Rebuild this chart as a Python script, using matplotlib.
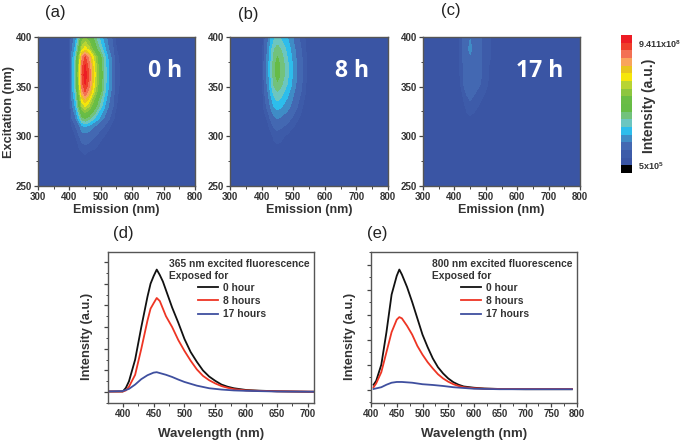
import matplotlib
matplotlib.use('Agg')
import matplotlib.pyplot as plt
from matplotlib.colors import ListedColormap
from matplotlib.ticker import MultipleLocator
import numpy as np

plt.rcParams['font.family'] = ['Liberation Sans', 'DejaVu Sans']
plt.rcParams['mathtext.fontset'] = 'custom'
plt.rcParams['mathtext.bf'] = 'Liberation Sans:bold'

W, H = 683, 440
DARK = '#333333'

# excitation-emission maps, values are colour band numbers
emission = [300, 400, 408, 420, 432, 440, 450, 462, 482, 510, 525, 545, 570, 800]
excitation = [250, 270, 285, 300, 310, 318, 330, 345, 352, 362, 372, 380, 388, 400]

map_0h = [
    [0, 0, 0, 0, 0, 0, 0, 0, 0, 0, 0, 0, 0, 0],
    [0, 0, 0, 0, 0.1, 0.1, 0.1, 0.1, 0.1, 0, 0, 0, 0, 0],
    [0, 0, 0.1, 0.2, 0.4, 0.5, 0.6, 0.5, 0.4, 0.2, 0.1, 0, 0, 0],
    [0, 0, 0.3, 0.5, 1.0, 1.4, 1.5, 1.4, 1.0, 0.5, 0.3, 0.1, 0, 0],
    [0, 0.1, 0.5, 1.0, 1.9, 2.7, 3.0, 2.7, 1.9, 1.0, 0.6, 0.2, 0, 0],
    [0, 0.1, 1.0, 1.9, 3.8, 5.4, 6.0, 5.4, 3.8, 1.9, 1.1, 0.4, 0.1, 0],
    [0, 0.2, 1.7, 3.2, 6.4, 9.0, 10.0, 9.0, 6.4, 3.2, 1.9, 0.6, 0.1, 0],
    [0, 0.3, 2.4, 4.5, 9.0, 12.6, 14.0, 12.6, 9.0, 4.5, 2.7, 0.8, 0.1, 0],
    [0, 0.3, 2.6, 4.8, 9.6, 13.5, 15.0, 13.5, 9.6, 4.8, 2.9, 0.9, 0.15, 0],
    [0, 0.3, 2.7, 5.0, 10.0, 14.0, 15.6, 14.0, 10.0, 5.0, 3.0, 0.9, 0.15, 0],
    [0, 0.3, 2.6, 4.8, 9.6, 13.5, 15.0, 13.5, 9.6, 4.8, 2.9, 0.9, 0.15, 0],
    [0, 0.3, 2.4, 4.5, 9.0, 12.6, 14.0, 12.6, 9.0, 4.5, 2.7, 0.8, 0.1, 0],
    [0, 0.2, 1.8, 3.4, 6.7, 9.5, 10.5, 9.5, 6.7, 3.4, 2.0, 0.6, 0.1, 0],
    [0, 0.2, 1.4, 2.6, 5.1, 7.2, 8.0, 7.2, 5.1, 2.6, 1.5, 0.5, 0.1, 0],
]
map_8h = [
    [0, 0, 0, 0, 0, 0, 0, 0, 0, 0, 0, 0, 0, 0],
    [0, 0, 0, 0, 0.1, 0.1, 0.1, 0.1, 0.1, 0, 0, 0, 0, 0],
    [0, 0, 0, 0.1, 0.2, 0.3, 0.3, 0.3, 0.2, 0.1, 0, 0, 0, 0],
    [0, 0, 0.1, 0.2, 0.4, 0.6, 0.7, 0.6, 0.4, 0.2, 0.1, 0, 0, 0],
    [0, 0, 0.2, 0.4, 0.8, 1.1, 1.2, 1.1, 0.8, 0.4, 0.2, 0.1, 0, 0],
    [0, 0, 0.3, 0.6, 1.3, 1.8, 2.0, 1.8, 1.3, 0.6, 0.4, 0.1, 0, 0],
    [0, 0.1, 0.6, 1.3, 2.4, 3.1, 3.4, 3.1, 2.4, 1.1, 0.6, 0.2, 0, 0],
    [0, 0.1, 0.9, 2.0, 3.6, 4.5, 5.0, 4.5, 3.4, 1.6, 1.0, 0.3, 0.1, 0],
    [0, 0.1, 1.0, 2.3, 4.1, 5.2, 5.8, 5.2, 3.9, 1.9, 1.1, 0.3, 0.1, 0],
    [0, 0.1, 1.1, 2.5, 4.5, 5.8, 6.4, 5.8, 4.2, 2.0, 1.2, 0.4, 0.1, 0],
    [0, 0.1, 1.1, 2.5, 4.5, 5.8, 6.4, 5.8, 4.2, 2.0, 1.2, 0.4, 0.1, 0],
    [0, 0.1, 1.0, 2.4, 4.2, 5.4, 6.0, 5.4, 3.9, 1.9, 1.1, 0.4, 0.1, 0],
    [0, 0.1, 0.9, 2.2, 3.9, 4.9, 5.4, 4.9, 3.6, 1.7, 1.0, 0.3, 0.1, 0],
    [0, 0.1, 0.7, 1.8, 3.3, 3.8, 4.2, 3.8, 3.0, 1.3, 0.8, 0.3, 0, 0],
]
map_17h = [
    [0, 0, 0, 0, 0, 0, 0, 0, 0, 0, 0, 0, 0, 0],
    [0, 0, 0, 0, 0, 0, 0, 0, 0, 0, 0, 0, 0, 0],
    [0, 0, 0, 0, 0, 0, 0, 0, 0, 0, 0, 0, 0, 0],
    [0, 0, 0, 0, 0, 0, 0.1, 0, 0, 0, 0, 0, 0, 0],
    [0, 0, 0, 0, 0, 0.1, 0.1, 0.1, 0, 0, 0, 0, 0, 0],
    [0, 0, 0, 0, 0.2, 0.3, 0.4, 0.3, 0.2, 0.1, 0, 0, 0, 0],
    [0, 0, 0, 0.1, 0.4, 0.7, 0.8, 0.7, 0.4, 0.2, 0.1, 0, 0, 0],
    [0, 0, 0, 0.3, 0.9, 1.1, 1.3, 1.1, 0.8, 0.3, 0.1, 0, 0, 0],
    [0, 0, 0.1, 0.5, 1.1, 1.3, 1.5, 1.3, 1.0, 0.4, 0.2, 0, 0, 0],
    [0, 0, 0.1, 0.6, 1.2, 1.4, 1.6, 1.4, 1.1, 0.5, 0.3, 0.1, 0, 0],
    [0, 0, 0.1, 0.6, 1.2, 1.5, 1.7, 1.5, 1.1, 0.5, 0.3, 0.1, 0, 0],
    [0, 0, 0.1, 0.7, 1.3, 1.5, 1.8, 1.5, 1.1, 0.6, 0.3, 0.1, 0, 0],
    [0, 0, 0.1, 0.7, 1.3, 1.6, 2.4, 1.6, 1.1, 0.6, 0.3, 0.1, 0, 0],
    [0, 0, 0.1, 0.7, 1.3, 1.5, 1.9, 1.5, 1.1, 0.6, 0.3, 0.1, 0, 0],
]

levels = [0, 0.5, 1, 2, 3, 4, 5, 6, 7, 8, 9, 10, 11, 12, 13, 14, 15, 16]
band_colors = ['#3A55A4', '#3D5BA9', '#4368B2', '#3F8CC6', '#2DBDEC', '#6CC6C0',
               '#72C27C', '#66BC46', '#6ABD45', '#8DC63F', '#B8D433', '#F6E60A',
               '#E8C51E', '#F9A45C', '#F37054', '#EF3E2B', '#ED1C24']

# spectra (d)
d_black_x = [375, 400, 405, 410, 420, 430, 440, 445, 450, 455, 460, 465, 470, 480, 490, 500, 510, 520,
             530, 540, 550, 560, 570, 580, 600, 620, 650, 700, 710]
d_black_y = [0.03, 0.03, 0.2, 0.5, 1.5, 3.0, 4.4, 5.0, 5.35, 5.65, 5.4, 5.1, 4.7, 3.9, 3.2, 2.45, 1.85, 1.4,
             1.0, 0.72, 0.52, 0.35, 0.25, 0.18, 0.1, 0.07, 0.04, 0.02, 0.02]
d_red_x = [375, 400, 405, 410, 420, 430, 440, 445, 450, 455, 460, 470, 480, 490, 500, 510, 520,
           530, 540, 550, 560, 570, 580, 600, 620, 650, 710]
d_red_y = [0.03, 0.03, 0.08, 0.25, 0.8, 2.0, 3.3, 3.85, 4.1, 4.34, 4.2, 3.5, 3.0, 2.4, 1.9, 1.45, 1.05,
           0.75, 0.55, 0.4, 0.28, 0.2, 0.14, 0.08, 0.06, 0.04, 0.02]
d_blue_x = [375, 400, 410, 420, 430, 440, 450, 455, 460, 470, 480, 490, 500, 520, 540, 560, 580, 600, 650, 710]
d_blue_y = [0.03, 0.05, 0.15, 0.35, 0.6, 0.78, 0.9, 0.92, 0.88, 0.8, 0.7, 0.58, 0.47, 0.3, 0.18, 0.12, 0.08,
            0.06, 0.03, 0.02]

# spectra (e)
e_black_x = [405, 410, 420, 430, 440, 450, 455, 460, 470, 480, 490, 500, 510, 520, 530, 540, 550, 560,
             570, 580, 600, 620, 650, 700, 790]
e_black_y = [0.2, 0.35, 1.0, 2.3, 3.8, 4.55, 4.8, 4.6, 4.1, 3.5, 2.85, 2.2, 1.7, 1.25, 0.9, 0.65, 0.45, 0.3,
             0.2, 0.13, 0.08, 0.05, 0.03, 0.02, 0.02]
e_red_x = [405, 410, 420, 430, 440, 450, 455, 460, 470, 480, 490, 500, 510, 520, 530, 540, 550, 560,
           570, 580, 600, 620, 650, 790]
e_red_y = [0.1, 0.25, 0.7, 1.5, 2.3, 2.8, 2.9, 2.85, 2.55, 2.2, 1.75, 1.4, 1.1, 0.85, 0.62, 0.45, 0.32, 0.22,
           0.15, 0.1, 0.06, 0.04, 0.03, 0.03]
e_blue_x = [405, 420, 430, 440, 450, 460, 480, 500, 520, 540, 560, 580, 600, 650, 790]
e_blue_y = [0.03, 0.1, 0.2, 0.28, 0.31, 0.31, 0.28, 0.22, 0.19, 0.15, 0.1, 0.07, 0.04, 0.02, 0.02]

legend_labels = ['0 hour', '8 hours', '17 hours']
line_colors = ['#111111', '#EE3524', '#3F4F9F']


def px_axes(fig, left, top, right, bottom):
    return fig.add_axes([left / W, 1 - bottom / H, (right - left) / W, (bottom - top) / H])


def style_axes(ax):
    for spine in ax.spines.values():
        spine.set_color('#555555')
        spine.set_linewidth(1.0)
    ax.tick_params(which='major', length=3, width=0.9, color='#444444', labelcolor=DARK, pad=1.5)
    ax.tick_params(which='minor', length=1.8, width=0.7, color='#444444')


def draw_map(fig, box, values, time_label, time_x, letter, letter_x, letter_y, show_ylabel=False):
    ax = px_axes(fig, *box)
    ax.contourf(emission, excitation, values, levels=levels, colors=band_colors)
    ax.set_xlim(300, 800)
    ax.set_ylim(250, 400)
    ax.set_xticks([300, 400, 500, 600, 700, 800])
    ax.set_yticks([250, 300, 350, 400])
    ax.xaxis.set_minor_locator(MultipleLocator(50))
    ax.yaxis.set_minor_locator(MultipleLocator(25))
    style_axes(ax)
    for lab in ax.get_xticklabels() + ax.get_yticklabels():
        lab.set_fontsize(7)
        lab.set_fontweight('bold')
    ax.set_xlabel('Emission (nm)', fontsize=9, fontweight='bold', color=DARK, labelpad=1)
    if show_ylabel:
        ax.set_ylabel('Excitation (nm)', fontsize=9.2, fontweight='bold', color=DARK)
        ax.yaxis.set_label_coords((15 - box[0]) / (box[2] - box[0]), 0.5)
    ax.text(time_x, 0.775, time_label, transform=ax.transAxes, ha='center', va='center', color='white',
            fontsize=16.5, fontweight='bold', family=['Open Sans', 'DejaVu Sans'])
    fig.text(letter_x / W, 1 - letter_y / H, letter, fontsize=12, color='#222222', ha='left', va='center')
    return ax


def draw_spectrum(fig, box, xlim, ylim, xticks, minor_x, series, title, letter, letter_x, letter_y):
    ax = px_axes(fig, *box)
    handles = []
    for (x, y), color, label in zip(series, line_colors, legend_labels):
        handles.append(ax.plot(x, y, color=color, lw=1.3, label=label)[0])
    ax.set_xlim(*xlim)
    ax.set_ylim(*ylim)
    ax.set_xticks(xticks)
    ax.xaxis.set_minor_locator(MultipleLocator(minor_x))
    ax.yaxis.set_major_locator(MultipleLocator(1))
    ax.yaxis.set_minor_locator(MultipleLocator(0.5))
    ax.set_yticklabels([])
    style_axes(ax)
    for lab in ax.get_xticklabels():
        lab.set_fontsize(7)
        lab.set_fontweight('bold')
    ax.set_xlabel('Wavelength (nm)', fontsize=9.5, fontweight='bold', color=DARK, labelpad=6)
    ax.set_ylabel('Intensity (a.u.)', fontsize=9.3, fontweight='bold', color=DARK)
    ax.yaxis.set_label_coords(-0.075, 0.444)
    ax.text(0.295, 0.955, title, transform=ax.transAxes, fontsize=7.4, fontweight='bold', color=DARK,
            va='top', linespacing=1.3)
    ax.legend(handles=handles, loc='upper left', bbox_to_anchor=(0.435, 0.795), frameon=False,
              prop={'size': 7.4, 'weight': 'bold'}, labelcolor=DARK, handlelength=1.95, handletextpad=0.5,
              labelspacing=0.3, borderpad=0, borderaxespad=0)
    fig.text(letter_x / W, 1 - letter_y / H, letter, fontsize=12, color='#222222', ha='left', va='center')
    return ax


fig = plt.figure(figsize=(W / 100, H / 100), dpi=100)

draw_map(fig, (38, 37, 195, 186), map_0h, '0 h', 0.81, '(a)', 45, 13, show_ylabel=True)
draw_map(fig, (230, 37, 388, 186), map_8h, '8 h', 0.77, '(b)', 238, 15)
draw_map(fig, (423, 37, 580, 186), map_17h, '17 h', 0.745, '(c)', 441, 10)

# colour key
cax = px_axes(fig, 621, 35, 632, 173)
key_bands = np.arange(len(band_colors) + 1).reshape(-1, 1)
key_colors = ['#000000'] + band_colors
cax.imshow(key_bands, origin='lower', aspect='auto', cmap=ListedColormap(key_colors))
cax.axis('off')
fig.text(638 / W, 1 - 44 / H, r'9.411x10$^{\mathbf{8}}$', fontsize=6.5, fontweight='bold', color=DARK, va='center')
fig.text(638 / W, 1 - 166 / H, r'5x10$^{\mathbf{5}}$', fontsize=6.5, fontweight='bold', color=DARK, va='center')
fig.text(649 / W, 1 - 106 / H, 'Intensity (a.u.)', fontsize=10, fontweight='bold', color=DARK, rotation=90,
         ha='center', va='center')

draw_spectrum(fig, (108, 252, 314, 403), (376, 710), (-0.5, 6.46), [400, 450, 500, 550, 600, 650, 700], 25,
              [(d_black_x, d_black_y), (d_red_x, d_red_y), (d_blue_x, d_blue_y)],
              '365 nm excited fluorescence\nExposed for', '(d)', 113, 233)
draw_spectrum(fig, (371, 252, 577, 403), (400, 800), (-0.53, 5.5), [400, 450, 500, 550, 600, 650, 700, 750, 800], 25,
              [(e_black_x, e_black_y), (e_red_x, e_red_y), (e_blue_x, e_blue_y)],
              '800 nm excited fluorescence\nExposed for', '(e)', 367, 233)

fig.savefig('out.png', dpi=100)
